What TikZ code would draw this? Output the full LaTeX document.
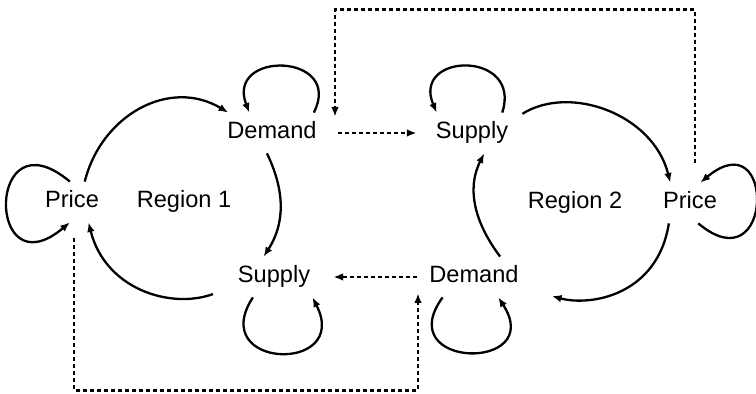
\documentclass[tikz,border=0pt]{standalone}
\usepackage{fontspec}
\setmainfont{Liberation Sans}
\usetikzlibrary{arrows.meta}
\tikzset{
  var/.style={inner xsep=1pt,inner ysep=0pt,minimum height=20pt,
    text height=8.5pt,text depth=2.5pt},
  link/.style={line width=1.15pt,-{Latex[length=4.8pt,width=3.8pt]}},
  dlink/.style={link,dash pattern=on 2pt off 1.5pt},
}
\begin{document}
\begin{tikzpicture}[x=.5pt,y=.5pt,font=\fontsize{11.8}{14}\selectfont]
  \useasboundingbox (0,0) rectangle (756,394);
  \node[var] (p1) at (72,192) {Price};
  \node[var] (r1) at (184,192) {Region 1};
  \node[var] (d1) at (272,261) {Demand};
  \node[var] (s1) at (274,117) {Supply};
  \node[var] (s2) at (472,261) {Supply};
  \node[var] (r2) at (575,191) {Region 2};
  \node[var] (p2) at (690,191) {Price};
  \node[var] (d2) at (474,117) {Demand};
  % region 1
  \draw[link] (p1.58) to[out=76,in=149,looseness=1.1] (d1.155);
  \draw[link] (d1.256) to[out=-64,in=57] (s1.117);
  \draw[link,shorten <=12pt] (s1.193) to[out=-160,in=-76,looseness=1.1] (p1.-51);
  \draw[link] (p1.96) to[out=140,in=220,looseness=6.9] (p1.264);
  \draw[link] (d1.26) to[out=63,in=111,looseness=2.67] (d1.138);
  \draw[link] (s1.224) to[out=237,in=297,looseness=3.7] (s1.south east);
  % region 2
  \draw[link,shorten <=7pt] (s2.17) to[out=32,in=104,looseness=1.05] (p2.134);
  \draw[link,shorten >=16pt] (p2.224) to[out=-99,in=-15,looseness=1.15] (d2.-13);
  \draw[link] (d2.38) to[out=127,in=243] (s2.-59);
  \draw[link] (s2.34) to[out=72,in=113,looseness=2.57] (s2.150);
  \draw[link] (p2.-68) to[out=-40,in=40,looseness=6.2] (p2.63);
  \draw[link] (d2.213) to[out=234,in=303,looseness=4.1] (d2.320);
  % between regions
  \draw[dlink,shorten <=9.5pt,shorten >=8.5pt] (d1.east) -- (s2.west);
  \draw[dlink,shorten <=5pt,shorten >=10.5pt] (d2.west) -- (s1.east);
  \draw[dlink,shorten <=10pt] ([xshift=2.5pt]p2.north) -- ++(0,173)
    -| ([xshift=8pt,yshift=-2pt]d1.north east);
  \draw[dlink,shorten <=8pt] ([xshift=1pt]p1.south) -- ++(0,-168)
    -| ([xshift=-4.5pt,yshift=2pt]d2.south west);
\end{tikzpicture}
\end{document}
